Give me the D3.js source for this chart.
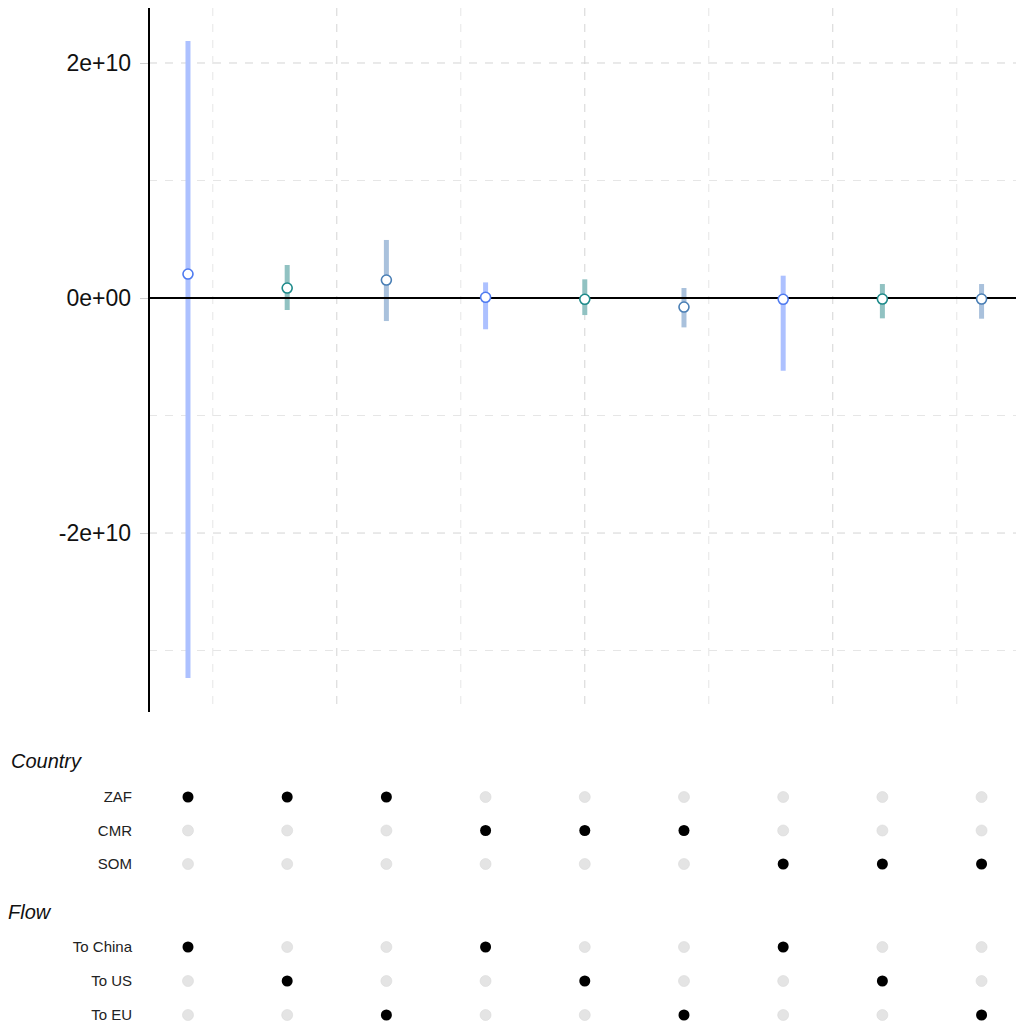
<!DOCTYPE html>
<html>
<head>
<meta charset="utf-8">
<script src="https://cdn.jsdelivr.net/npm/d3@7"></script>
<style>
  body { margin: 0; background: #fff; }
  text { font-family: "Liberation Sans", Arial, sans-serif; }
</style>
</head>
<body>
<svg id="chart" width="1016" height="1030"></svg>
<script>
'use strict'

// one entry per combination, left to right
const combos = [1, 2, 3, 4, 5, 6, 7, 8, 9]
const estimates = [0.204e10, 0.085e10, 0.153e10, 0.006e10, -0.011e10, -0.077e10, -0.011e10, -0.009e10, -0.009e10]
const upper = [2.187e10, 0.281e10, 0.494e10, 0.133e10, 0.159e10, 0.085e10, 0.19e10, 0.119e10, 0.119e10]
const lower = [-3.234e10, -0.102e10, -0.196e10, -0.266e10, -0.145e10, -0.25e10, -0.619e10, -0.173e10, -0.176e10]
const flowOf = ['To China', 'To US', 'To EU', 'To China', 'To US', 'To EU', 'To China', 'To US', 'To EU']
const countryOf = ['ZAF', 'ZAF', 'ZAF', 'CMR', 'CMR', 'CMR', 'SOM', 'SOM', 'SOM']

const countries = ['ZAF', 'CMR', 'SOM']
const flows = ['To China', 'To US', 'To EU']
const yTicks = [-2e10, 0, 2e10]
const yMinor = [-3e10, -1e10, 1e10]
const xMajor = [2.5, 5, 7.5]
const xMinor = [1.25, 3.75, 6.25, 8.75]

const flowColors = {
    'To China': { bar: '#adc1ff', dot: '#4f7bf0' },
    'To US': { bar: '#91c2c2', dot: '#1d8a8a' },
    'To EU': { bar: '#a9c1dc', dot: '#4a7fb5' }
}

const data = combos.map((c, i) => ({
    id: c,
    est: estimates[i],
    hi: upper[i],
    lo: lower[i],
    flow: flowOf[i],
    country: countryOf[i]
}))

const svg = d3.select('#chart')

const plotLeft = 149
const plotRight = 1016
const plotTop = 8
const plotBottom = 712

const x = d3.scaleLinear()
    .domain([0.607, 9.347])
    .range([plotLeft, plotRight])

const y = d3.scaleLinear()
    .domain([-3.523e10, 2.468e10])
    .range([plotBottom, plotTop])

// grid
const grid = svg.append('g')
function hGrid(vals, col) {
    grid.selectAll(null)
        .data(vals)
        .enter()
        .append('line')
        .attr('x1', plotLeft).attr('x2', plotRight)
        .attr('y1', (d) => y(d)).attr('y2', (d) => y(d))
        .attr('stroke', col)
        .attr('stroke-dasharray', '8,8')
}
function vGrid(vals, col) {
    grid.selectAll(null)
        .data(vals)
        .enter()
        .append('line')
        .attr('x1', (d) => x(d)).attr('x2', (d) => x(d))
        .attr('y1', plotTop).attr('y2', plotBottom)
        .attr('stroke', col)
        .attr('stroke-dasharray', '8,8')
}
hGrid(yMinor, '#e6e6e6')
hGrid(yTicks, '#d4d4d4')
vGrid(xMinor, '#e6e6e6')
vGrid(xMajor, '#d4d4d4')

// y axis
const yAxis = svg.append('g')
    .attr('transform', `translate(${plotLeft}, 0)`)
    .call(d3.axisLeft(y)
        .tickValues(yTicks)
        .tickSize(9)
        .tickPadding(9)
        .tickFormat((d) => d === 0 ? '0e+00' : (d < 0 ? '-' : '') + '2e+10'))
yAxis.select('.domain').remove()
yAxis.selectAll('.tick line').attr('stroke', '#cfcfcf')
yAxis.selectAll('.tick text')
    .attr('font-size', 23)
    .attr('fill', '#111')
    .attr('font-family', '"Liberation Sans", Arial, sans-serif')

svg.append('line')
    .attr('x1', plotLeft).attr('x2', plotLeft)
    .attr('y1', plotTop).attr('y2', plotBottom)
    .attr('stroke', '#000')
    .attr('stroke-width', 2)

// error bars
svg.selectAll('.bar')
    .data(data)
    .enter()
    .append('line')
    .attr('x1', (d) => x(d.id)).attr('x2', (d) => x(d.id))
    .attr('y1', (d) => y(d.hi)).attr('y2', (d) => y(d.lo))
    .attr('stroke', (d) => flowColors[d.flow].bar)
    .attr('stroke-width', 5)

// zero line
svg.append('line')
    .attr('x1', plotLeft).attr('x2', plotRight)
    .attr('y1', y(0)).attr('y2', y(0))
    .attr('stroke', '#000')
    .attr('stroke-width', 2)

svg.selectAll('.pt')
    .data(data)
    .enter()
    .append('circle')
    .attr('cx', (d) => x(d.id))
    .attr('cy', (d) => y(d.est))
    .attr('r', 5)
    .attr('fill', '#fff')
    .attr('stroke', (d) => flowColors[d.flow].dot)
    .attr('stroke-width', 1.6)

// indicator matrix
const countryY = d3.scalePoint().domain(countries).range([797, 864])
const flowY = d3.scalePoint().domain(flows).range([947, 1015])

svg.append('text')
    .attr('x', 11).attr('y', 768)
    .attr('font-size', 20)
    .attr('font-style', 'italic')
    .attr('fill', '#111')
    .text('Country')
svg.append('text')
    .attr('x', 8).attr('y', 919)
    .attr('font-size', 20)
    .attr('font-style', 'italic')
    .attr('fill', '#111')
    .text('Flow')

function drawBlock(values, yScale, key) {
    svg.selectAll(null)
        .data(values)
        .enter()
        .append('text')
        .attr('x', 132)
        .attr('y', (d) => yScale(d))
        .attr('dy', '0.35em')
        .attr('text-anchor', 'end')
        .attr('font-size', 15)
        .attr('fill', '#222')
        .text((d) => d)

    const cells = []
    data.forEach((d) => values.forEach((v) => cells.push({ id: d.id, v: v, on: d[key] === v })))

    svg.selectAll(null)
        .data(cells)
        .enter()
        .append('circle')
        .attr('cx', (c) => x(c.id))
        .attr('cy', (c) => yScale(c.v))
        .attr('r', 5.5)
        .attr('fill', (c) => c.on ? '#000' : '#e4e4e4')
        .attr('stroke', (c) => c.on ? 'none' : '#dadada')
        .attr('stroke-width', 0.6)
}

drawBlock(countries, countryY, 'country')
drawBlock(flows, flowY, 'flow')
</script>
</body>
</html>
